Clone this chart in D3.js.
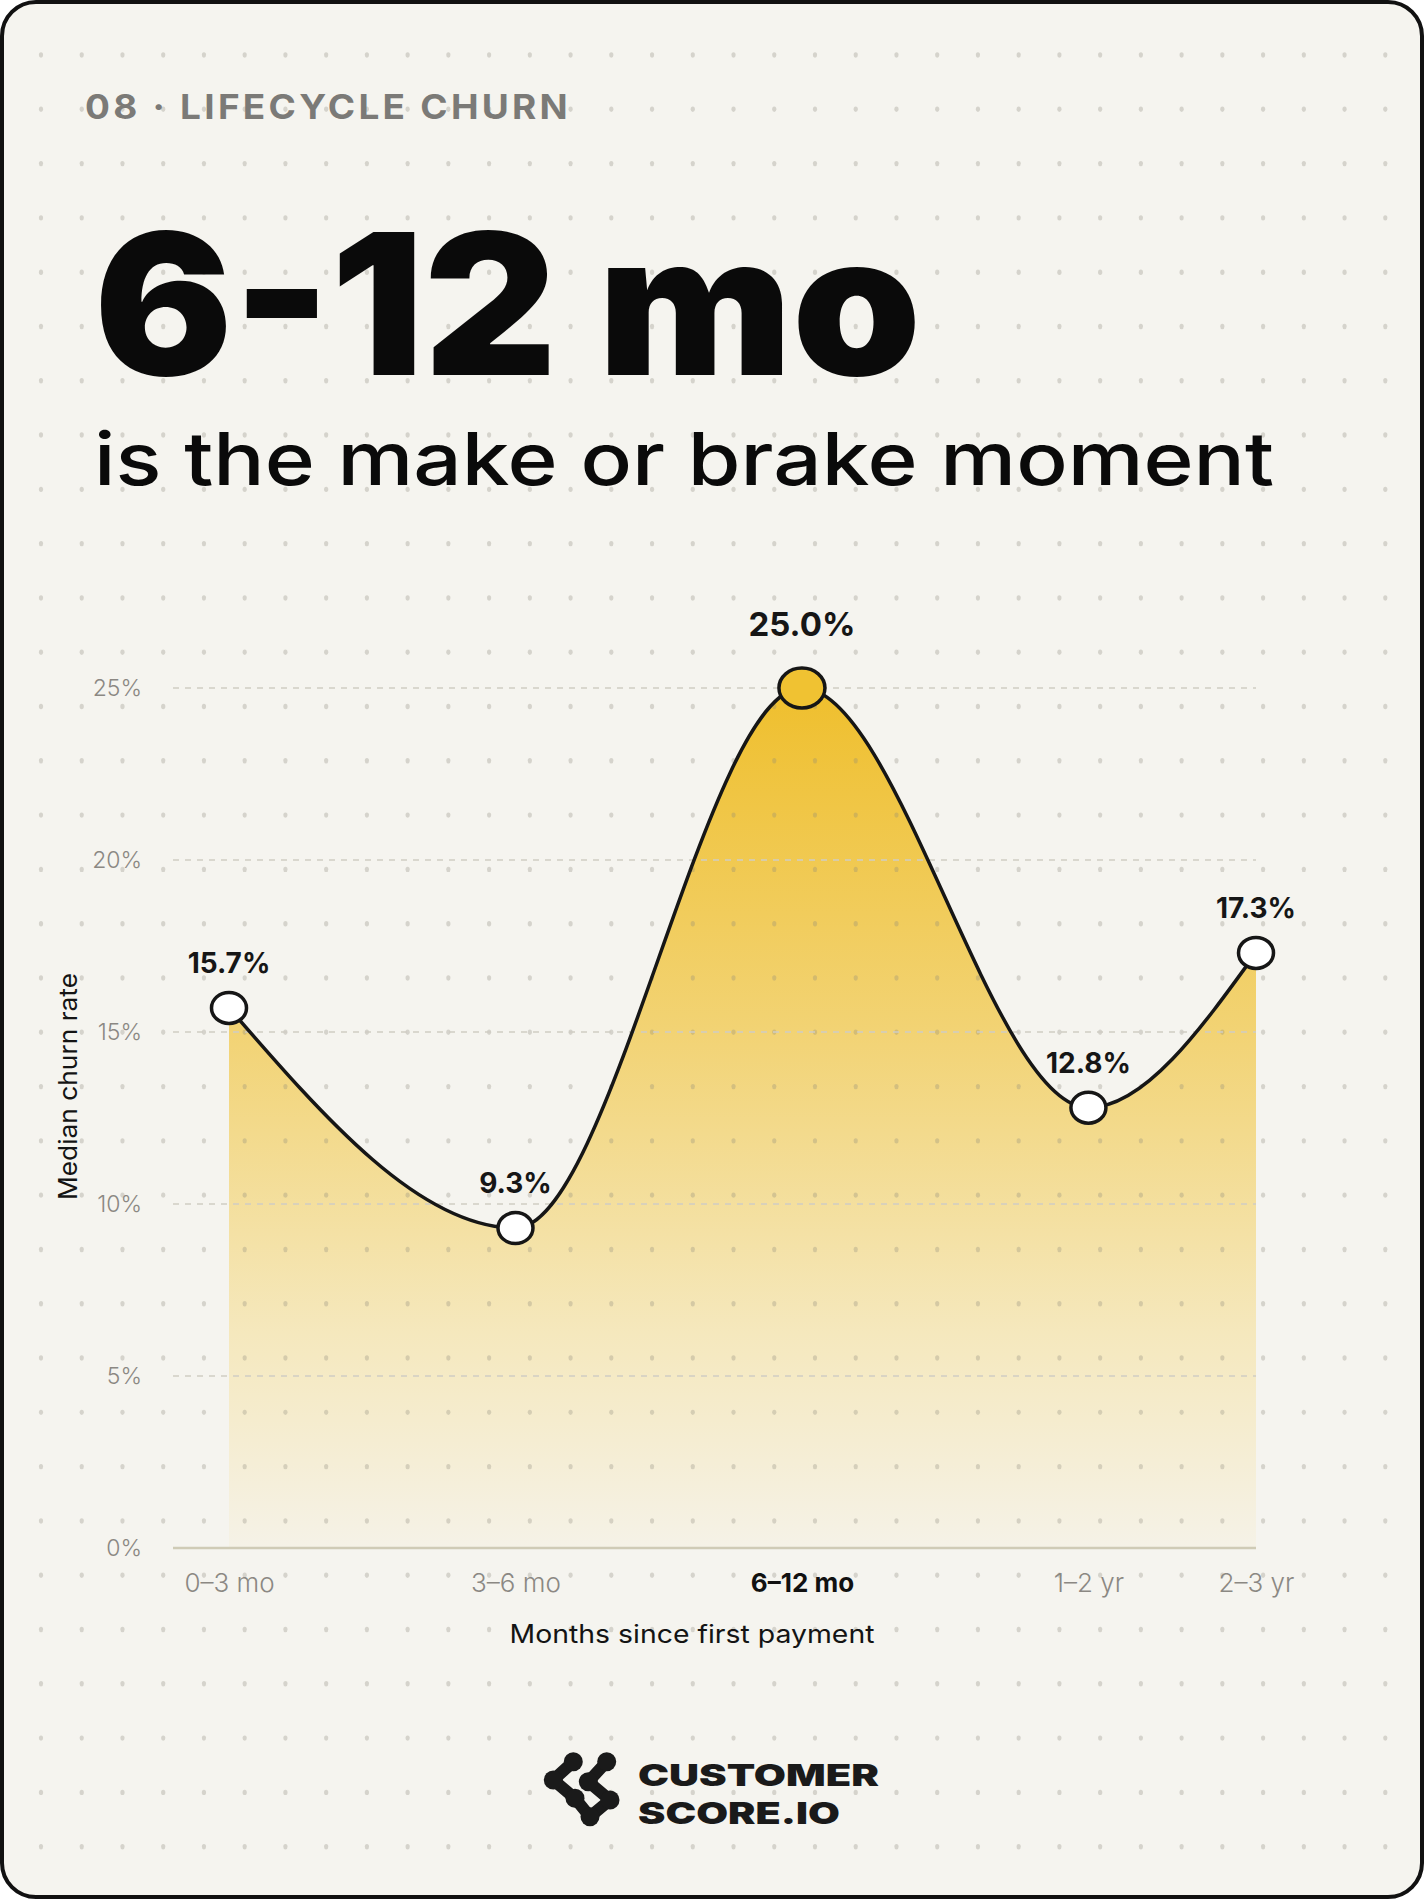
<!DOCTYPE html>
<html>
<head>
<meta charset="utf-8">
<script src="https://cdn.jsdelivr.net/npm/d3@7"></script>
<style>
  html, body { margin: 0; padding: 0; background: #ffffff; }
  svg { display: block; }
  text { font-family: Inter, "Open Sans", "DejaVu Sans", sans-serif; }
</style>
</head>
<body>
<svg id="chart" width="1424" height="1899"></svg>
<script>
// ---- data ----
const categories = ["0–3 mo", "3–6 mo", "6–12 mo", "1–2 yr", "2–3 yr"];
const endMonths = [3, 6, 12, 24, 36];           // upper bound of each tenure bucket, months
const churn = [15.7, 9.3, 25.0, 12.8, 17.3];     // median churn rate, %
const yTicks = [0, 5, 10, 15, 20, 25];
const highlight = "6–12 mo";

const kicker = "08 · LIFECYCLE CHURN";
const headline = "6-12 mo";
const subhead = "is the make or brake moment";
const xTitle = "Months since first payment";
const yTitle = "Median churn rate";
const brand = ["CUSTOMER", "SCORE.IO"];

const data = categories.map((c, i) => ({ cat: c, m: endMonths[i], v: churn[i] }));

// ---- setup ----
const W = 1424, H = 1899;
const svg = d3.select("#chart");
const defs = svg.append("defs");

const x = d3.scaleLog().domain([3, 36]).range([229, 1256]);
const y = d3.scaleLinear().domain([0, 25]).range([1548, 688]);
const plotLeft = 173, plotRight = 1256;

// card
svg.append("rect")
  .attr("x", 2).attr("y", 2).attr("width", W - 4).attr("height", H - 4)
  .attr("rx", 34).attr("ry", 34)
  .attr("fill", "#f5f4ef").attr("stroke", "#111").attr("stroke-width", 4);

// gradient
const grad = defs.append("linearGradient").attr("id", "areaGrad")
  .attr("gradientUnits", "userSpaceOnUse")
  .attr("x1", 0).attr("x2", 0).attr("y1", y(25)).attr("y2", y(0));
grad.append("stop").attr("offset", "0%").attr("stop-color", "#efbf2d");
grad.append("stop").attr("offset", "40%").attr("stop-color", "#f2d374");
grad.append("stop").attr("offset", "75%").attr("stop-color", "#f5e8bd");
grad.append("stop").attr("offset", "100%").attr("stop-color", "#f5f2e7");

const curve = d3.curveMonotoneX;

// area
svg.append("path")
  .datum(data)
  .attr("fill", "url(#areaGrad)")
  .attr("d", d3.area().x(d => x(d.m)).y0(y(0)).y1(d => y(d.v)).curve(curve));

// dot grid
const cols = d3.range(34), rows = d3.range(34);
const gx = d3.scaleLinear().domain([0, 33]).range([41, 1385.3]);
const gy = d3.scaleLinear().domain([0, 33]).range([55, 1846.7]);
const dotG = svg.append("g");
rows.forEach(r => cols.forEach(c => {
  dotG.append("ellipse")
    .attr("cx", gx(c)).attr("cy", gy(r)).attr("rx", 2.1).attr("ry", 2.7)
    .attr("fill", "#8a877c").attr("fill-opacity", 0.3);
}));

// gridlines
svg.append("g").selectAll("line")
  .data(yTicks.filter(t => t > 0))
  .join("line")
  .attr("x1", plotLeft).attr("x2", plotRight)
  .attr("y1", d => y(d)).attr("y2", d => y(d))
  .attr("stroke", "#d0cdc3").attr("stroke-width", 1.6)
  .attr("stroke-dasharray", "6,6");

// baseline
svg.append("line")
  .attr("x1", plotLeft).attr("x2", plotRight)
  .attr("y1", y(0)).attr("y2", y(0))
  .attr("stroke", "#cfcbb6").attr("stroke-width", 2.5);

// y axis
const yAxis = svg.append("g").attr("transform", `translate(${plotLeft},0)`)
  .call(d3.axisLeft(y).tickValues(yTicks).tickFormat(d => d + "%").tickSize(0).tickPadding(31));
yAxis.select(".domain").remove();
yAxis.selectAll("text")
  .attr("font-family", "Inter, sans-serif").attr("font-size", 23).attr("font-weight", 300)
  .attr("fill", "#8b8883");

// x axis
const xAxis = svg.append("g").attr("transform", `translate(0,${y(0)})`)
  .call(d3.axisBottom(x).tickValues(endMonths).tickFormat((d, i) => categories[i]).tickSize(0).tickPadding(26));
xAxis.select(".domain").remove();
xAxis.selectAll("text")
  .attr("font-family", "Inter, sans-serif").attr("font-size", 26)
  .attr("font-weight", (d, i) => categories[i] === highlight ? 700 : 300)
  .attr("fill", (d, i) => categories[i] === highlight ? "#111" : "#8b8883");

// axis titles
svg.append("text")
  .attr("x", 692).attr("y", 1643).attr("text-anchor", "middle")
  .attr("font-size", 25).attr("font-weight", 400).attr("fill", "#141414")
  .attr("textLength", 365).attr("lengthAdjust", "spacingAndGlyphs")
  .text(xTitle);
svg.append("text")
  .attr("transform", "translate(76.5,1086.5) rotate(-90)")
  .attr("text-anchor", "middle")
  .attr("font-size", 25).attr("font-weight", 400).attr("fill", "#141414")
  .attr("textLength", 227).attr("lengthAdjust", "spacingAndGlyphs")
  .text(yTitle);

// line
svg.append("path")
  .datum(data)
  .attr("fill", "none").attr("stroke", "#161616").attr("stroke-width", 3.5)
  .attr("stroke-linejoin", "round")
  .attr("d", d3.line().x(d => x(d.m)).y(d => y(d.v)).curve(curve));

// markers
svg.append("g").selectAll("ellipse")
  .data(data)
  .join("ellipse")
  .attr("cx", d => x(d.m)).attr("cy", d => y(d.v))
  .attr("rx", d => d.cat === highlight ? 23 : 17.5)
  .attr("ry", d => d.cat === highlight ? 20 : 15.5)
  .attr("fill", d => d.cat === highlight ? "#f0c232" : "#ffffff")
  .attr("stroke", "#161616").attr("stroke-width", 3.5);

// value labels
svg.append("g").selectAll("text")
  .data(data)
  .join("text")
  .attr("x", d => x(d.m))
  .attr("y", d => y(d.v) - (d.cat === highlight ? 64 : 45))
  .attr("text-anchor", "middle").attr("dominant-baseline", "central")
  .attr("font-size", d => d.cat === highlight ? 33 : 28)
  .attr("font-weight", 700).attr("fill", "#161616")
  .text(d => d.v.toFixed(1) + "%");

// header texts
svg.append("text")
  .attr("x", 85).attr("y", 119)
  .attr("font-size", 34).attr("font-weight", 700).attr("fill", "#7b7a77")
  .attr("letter-spacing", 3)
  .attr("textLength", 486).attr("lengthAdjust", "spacingAndGlyphs")
  .text(kicker);

svg.append("text")
  .attr("x", 94).attr("y", 375)
  .attr("font-size", 196).attr("font-weight", 900).attr("fill", "#0a0a0a")
  .attr("textLength", 827).attr("lengthAdjust", "spacingAndGlyphs")
  .text(headline);

svg.append("text")
  .attr("x", 94).attr("y", 485)
  .attr("font-size", 73).attr("font-weight", 500).attr("fill", "#0a0a0a")
  .attr("textLength", 1180).attr("lengthAdjust", "spacingAndGlyphs")
  .text(subhead);

// brand logo
const logo = svg.append("g");
const iconPts = [[573.3,1761.7],[553.3,1780],[575,1798.3],[590,1816.7],[610,1800],[588.3,1781.7],[606.7,1761.7]];
logo.append("path")
  .attr("d", d3.line()(iconPts))
  .attr("fill", "none").attr("stroke", "#1a1a1a").attr("stroke-width", 12)
  .attr("stroke-linejoin", "round").attr("stroke-linecap", "round");
logo.selectAll("circle").data(iconPts).join("circle")
  .attr("cx", d => d[0]).attr("cy", d => d[1]).attr("r", 9.5).attr("fill", "#1a1a1a");
logo.append("text")
  .attr("x", 638).attr("y", 1786)
  .attr("font-size", 30).attr("font-weight", 900).attr("fill", "#1a1a1a")
  .attr("textLength", 241).attr("lengthAdjust", "spacingAndGlyphs")
  .text(brand[0]);
logo.append("text")
  .attr("x", 638).attr("y", 1823.5)
  .attr("font-size", 30).attr("font-weight", 900).attr("fill", "#1a1a1a")
  .attr("textLength", 202).attr("lengthAdjust", "spacingAndGlyphs")
  .text(brand[1]);
</script>
</body>
</html>
